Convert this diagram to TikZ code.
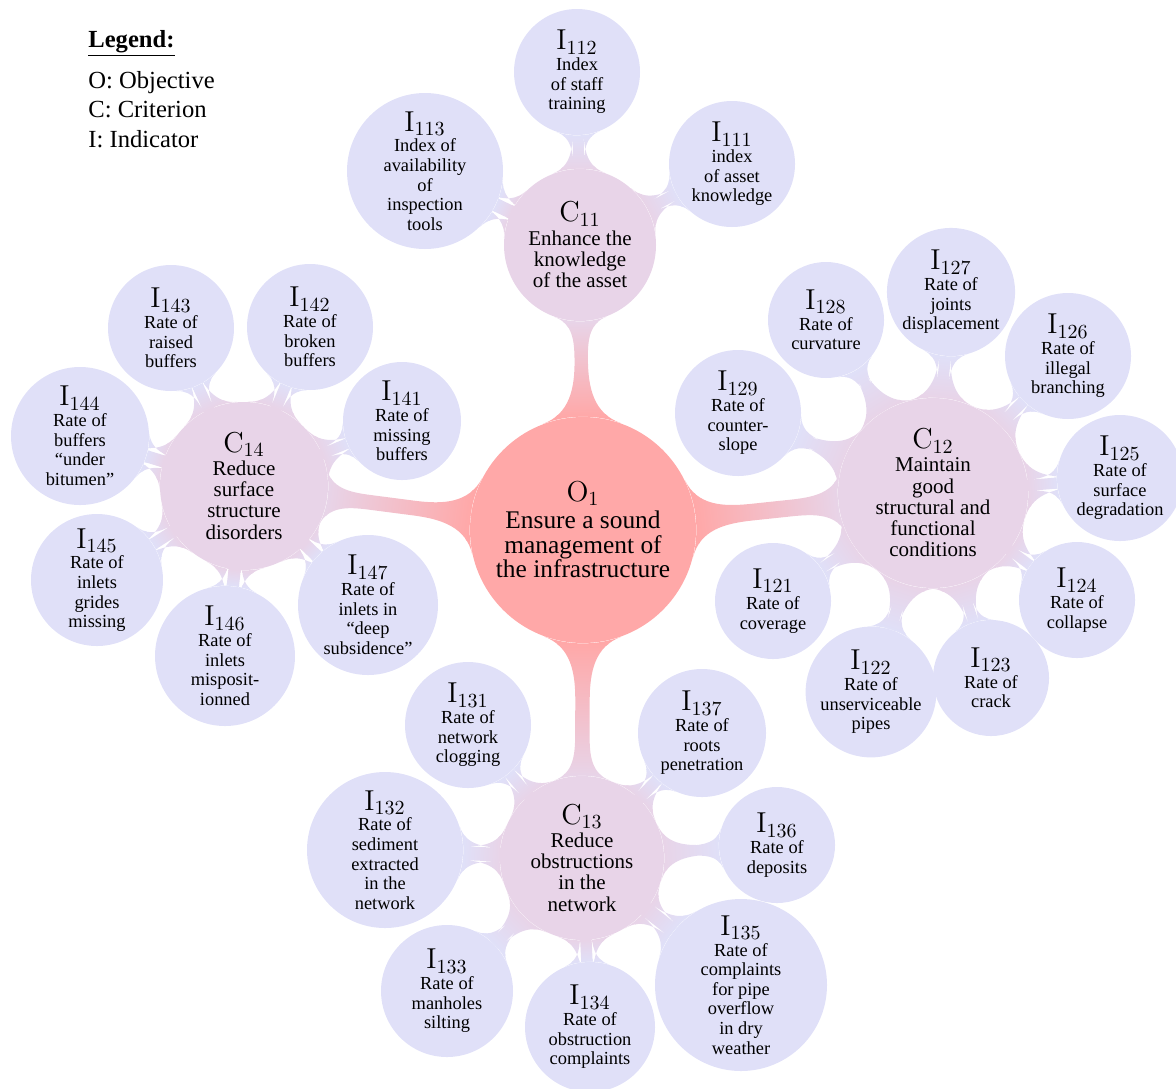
\documentclass[tikz,border=0pt]{standalone}
\usepackage[no-math]{fontspec}
\setmainfont{Liberation Serif}
\usetikzlibrary{mindmap,backgrounds}
\definecolor{ocol}{RGB}{255,168,168}
\definecolor{ccol}{RGB}{232,212,232}
\definecolor{icol}{RGB}{224,224,248}
\newcommand\lab[2]{{\fontsize{14.5}{10}\selectfont$\mathrm{#1}_{#2}$}}
\tikzset{
  bubble/.style={circle, inner sep=0pt, align=center, text=black},
  onode/.style={bubble, fill=ocol, minimum size=#1, font=\fontsize{12.7}{12.4}\selectfont},
  cnode/.style={bubble, fill=ccol, minimum size=#1, font=\fontsize{10.5}{10.6}\selectfont},
  inode/.style={bubble, fill=icol, minimum size=#1, font=\fontsize{9.2}{9.8}\selectfont},
  ocbar/.style={line width=9.5pt, circle connection bar switch color=from (ocol) to (ccol)},
  cibar/.style={line width=10pt, circle connection bar switch color=from (ccol) to (icol)},
  legend/.style={anchor=base west, inner sep=0pt, font=\fontsize{12.3}{14}\selectfont},
}
\begin{document}
\begin{tikzpicture}[x=0.5pt,y=-0.5pt]
\useasboundingbox (0,0) rectangle (1176,1088);
% legend
\node[legend] (lg) at (88,47) {\underline{\textbf{Legend:}}};
\node[legend] (lo) at (88,88) {O: Objective};
\node[legend] (lc) at (88,117) {C: Criterion};
\node[legend] (li) at (88,147) {I: Indicator};
% objective
\node[onode=113pt] (O1) at (583,530) {\lab{O}{1}\\[1pt]Ensure a sound\\management of\\the infrastructure};
% criteria
\node[cnode=76pt] (C11) at (580,245) {\lab{C}{11}\\[1pt]Enhance the\\knowledge\\of the asset};
\node[cnode=95pt] (C12) at (933,493) {\lab{C}{12}\\[1pt]Maintain\\good\\structural and\\functional\\conditions};
\node[cnode=82pt] (C13) at (582,858) {\lab{C}{13}\\[1pt]Reduce\\obstructions\\in the\\network};
\node[cnode=84pt] (C14) at (244,486) {\lab{C}{14}\\[1pt]Reduce\\surface\\structure\\disorders};
% indicators C11
\node[inode=63pt] (I112) at (577,72) {\lab{I}{112}\\[0.6pt]Index\\of staff\\training};
\node[inode=63pt] (I111) at (732,164) {\lab{I}{111}\\[0.6pt]index\\of asset\\knowledge};
\node[inode=78pt] (I113) at (425,171) {\lab{I}{113}\\[0.6pt]Index of\\availability\\of\\inspection\\tools};
% indicators C12
\node[inode=62pt] (I127) at (951,292) {\lab{I}{127}\\[0.6pt]Rate of\\joints\\displacement};
\node[inode=58pt] (I128) at (826,320) {\lab{I}{128}\\[0.6pt]Rate of\\curvature};
\node[inode=63pt] (I126) at (1068,356) {\lab{I}{126}\\[0.6pt]Rate of\\illegal\\branching};
\node[inode=63pt] (I129) at (738,413) {\lab{I}{129}\\[0.6pt]Rate of\\counter-\\slope};
\node[inode=63pt] (I125) at (1120,478) {\lab{I}{125}\\[0.6pt]Rate of\\surface\\degradation};
\node[inode=58pt] (I124) at (1077,600) {\lab{I}{124}\\[0.6pt]Rate of\\collapse};
\node[inode=58pt] (I123) at (991,678) {\lab{I}{123}\\[0.6pt]Rate of\\crack};
\node[inode=62pt] (I122) at (871,692) {\lab{I}{122}\\[0.6pt]Rate of\\unserviceable\\pipes};
\node[inode=58pt] (I121) at (773,601) {\lab{I}{121}\\[0.6pt]Rate of\\coverage};
% indicators C14
\node[inode=63pt] (I143) at (171,328) {\lab{I}{143}\\[0.6pt]Rate of\\raised\\buffers};
\node[inode=63pt] (I142) at (310,327) {\lab{I}{142}\\[0.6pt]Rate of\\broken\\buffers};
\node[inode=59pt] (I141) at (402,421) {\lab{I}{141}\\[0.6pt]Rate of\\missing\\buffers};
\node[inode=69pt] (I144) at (80,436) {\lab{I}{144}\\[0.6pt]Rate of\\buffers\\``under\\bitumen''};
\node[inode=66pt] (I145) at (97,580) {\lab{I}{145}\\[0.6pt]Rate of\\inlets\\grides\\missing};
\node[inode=70pt] (I146) at (225,656) {\lab{I}{146}\\[0.6pt]Rate of\\inlets\\misposit-\\ionned};
\node[inode=70pt] (I147) at (368,605) {\lab{I}{147}\\[0.6pt]Rate of\\inlets in\\``deep\\subsidence''};
% indicators C13
\node[inode=63pt] (I131) at (468,725) {\lab{I}{131}\\[0.6pt]Rate of\\network\\clogging};
\node[inode=64pt] (I137) at (702,733) {\lab{I}{137}\\[0.6pt]Rate of\\roots\\penetration};
\node[inode=78pt] (I132) at (385,850) {\lab{I}{132}\\[0.6pt]Rate of\\sediment\\extracted\\in the\\network};
\node[inode=58pt] (I136) at (777,845) {\lab{I}{136}\\[0.6pt]Rate of\\deposits};
\node[inode=86pt] (I135) at (741,985) {\lab{I}{135}\\[0.6pt]Rate of\\complaints\\for pipe\\overflow\\in dry\\weather};
\node[inode=65pt] (I134) at (590,1027) {\lab{I}{134}\\[0.6pt]Rate of\\obstruction\\complaints};
\node[inode=66pt] (I133) at (447,991) {\lab{I}{133}\\[0.6pt]Rate of\\manholes\\silting};
% connections
\begin{scope}[on background layer, mindmap]
\foreach \c in {C11,C12,C13,C14}
  \path (O1) to[ocbar] (\c);
\foreach \i in {I111,I112,I113}
  \path (C11) to[cibar] (\i);
\foreach \i in {I121,I122,I123,I124,I125,I126,I127,I128,I129}
  \path (C12) to[cibar] (\i);
\foreach \i in {I131,I132,I133,I134,I135,I136,I137}
  \path (C13) to[cibar] (\i);
\foreach \i in {I141,I142,I143,I144,I145,I146,I147}
  \path (C14) to[cibar] (\i);
\end{scope}
\end{tikzpicture}
\end{document}
